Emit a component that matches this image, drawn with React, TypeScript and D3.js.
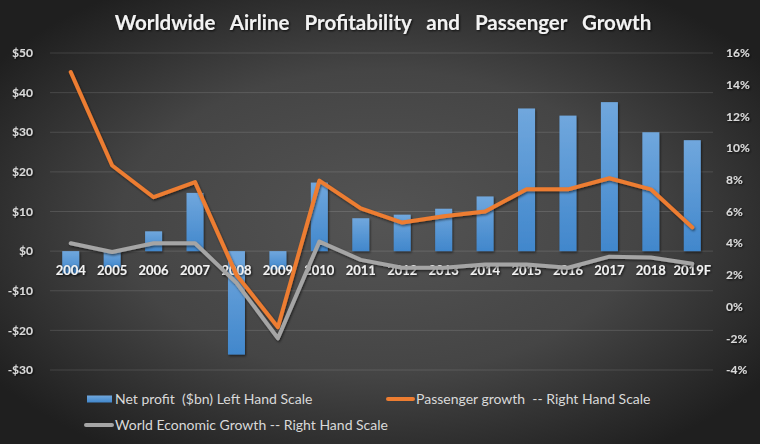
import * as d3 from 'd3';

const years = ['2004', '2005', '2006', '2007', '2008', '2009', '2010', '2011', '2012', '2013', '2014', '2015', '2016', '2017', '2018', '2019F'];
const netProfit = [-5.6, -4.1, 5.0, 14.7, -26.1, -4.6, 17.3, 8.3, 9.2, 10.7, 13.8, 36.0, 34.2, 37.6, 30.0, 28.0];
const passengerGrowth = [14.8, 8.9, 6.9, 7.85, 2.0, -1.3, 7.95, 6.2, 5.3, 5.7, 6.0, 7.4, 7.4, 8.1, 7.4, 5.0];
const worldGrowth = [4.0, 3.45, 4.0, 4.0, 1.5, -2.0, 4.1, 2.95, 2.45, 2.45, 2.65, 2.65, 2.45, 3.15, 3.1, 2.7];
const leftTicks = [-30, -20, -10, 0, 10, 20, 30, 40, 50];
const rightTicks = [-4, -2, 0, 2, 4, 6, 8, 10, 12, 14, 16];

const W = 760;
const H = 444;
const FONT = 'Lato, "Open Sans", sans-serif';

export default function App() {
  const x = d3.scaleBand().domain(years).range([50, 713]).paddingInner(0.59).paddingOuter(0.295);
  const yL = d3.scaleLinear().domain([-30, 50]).range([370, 53]);
  const yR = d3.scaleLinear().domain([-4, 16]).range([370, 53]);
  const cx = (y: string) => (x(y) || 0) + x.bandwidth() / 2;

  const line = d3.line<number>()
    .x((_, i) => cx(years[i]))
    .y(d => yR(d));

  const fmtL = (v: number) => (v < 0 ? `-$${-v}` : `$${v}`);

  return (
    <svg width={W} height={H} style={{ position: 'absolute', left: 0, top: 0 }} fontFamily={FONT}>
      <defs>
        <radialGradient id="bg" cx="50%" cy="50%" r="62%">
          <stop offset="0%" stopColor="#545454" />
          <stop offset="55%" stopColor="#454545" />
          <stop offset="100%" stopColor="#1f1f1f" />
        </radialGradient>
        <linearGradient id="bar" x1="0" y1="0" x2="0" y2="1">
          <stop offset="0%" stopColor="#70a7dd" />
          <stop offset="100%" stopColor="#4187cc" />
        </linearGradient>
        <filter id="shadow" x="-20%" y="-20%" width="140%" height="140%">
          <feDropShadow dx="1" dy="1.5" stdDeviation="1" floodColor="#000" floodOpacity="0.55" />
        </filter>
        <filter id="tshadow" x="-10%" y="-30%" width="120%" height="160%">
          <feDropShadow dx="1" dy="1" stdDeviation="0.8" floodColor="#000" floodOpacity="0.8" />
        </filter>
      </defs>

      <rect width={W} height={H} fill="url(#bg)" />

      <text x={383} y={30} textAnchor="middle" fontSize={20.5} fontWeight={700} fill="#f2f2f2"
        wordSpacing={10} filter="url(#tshadow)">
        Worldwide Airline Profitability and Passenger Growth
      </text>

      {/* grid */}
      {leftTicks.map(t => (
        <line key={t} x1={50} x2={713} y1={yL(t)} y2={yL(t)} stroke="#ffffff" strokeOpacity={0.13} />
      ))}

      {/* left axis */}
      {leftTicks.map(t => (
        <text key={t} x={33} y={yL(t)} dy="0.35em" textAnchor="end" fontSize={12} fontWeight={700}
          fill="#d9d9d9" filter="url(#tshadow)">{fmtL(t)}</text>
      ))}

      {/* right axis */}
      {rightTicks.map(t => (
        <text key={t} x={726} y={yR(t)} dy="0.35em" textAnchor="start" fontSize={12} fontWeight={700}
          fill="#d9d9d9" filter="url(#tshadow)">{`${t}%`}</text>
      ))}

      {/* bars */}
      {netProfit.map((v, i) => (
        <rect key={years[i]} x={x(years[i])} width={x.bandwidth()}
          y={Math.min(yL(v), yL(0))} height={Math.abs(yL(v) - yL(0))}
          fill="url(#bar)" filter="url(#shadow)" />
      ))}

      {/* year labels */}
      {years.map(y => (
        <text key={y} x={cx(y)} y={275} textAnchor="middle" fontSize={13} fontWeight={700}
          fill="#f2f2f2" filter="url(#tshadow)">{y}</text>
      ))}

      <path d={line(passengerGrowth) || ''} fill="none" stroke="#ed7d31" strokeWidth={4}
        strokeLinejoin="round" strokeLinecap="round" filter="url(#shadow)" />
      <path d={line(worldGrowth) || ''} fill="none" stroke="#a5a5a5" strokeWidth={4}
        strokeLinejoin="round" strokeLinecap="round" filter="url(#shadow)" />

      {/* legend */}
      <g fontSize={14} fill="#d9d9d9">
        <rect x={87} y={395.5} width={25} height={7} fill="url(#bar)" />
        <text x={115} y={399} dy="0.35em" xmlSpace="preserve">{'Net profit  ($bn) Left Hand Scale'}</text>
        <line x1={388} x2={413} y1={399} y2={399} stroke="#ed7d31" strokeWidth={4} strokeLinecap="round" />
        <text x={416} y={399} dy="0.35em" xmlSpace="preserve">{'Passenger growth  -- Right Hand Scale'}</text>
        <line x1={86} x2={112} y1={425} y2={425} stroke="#a5a5a5" strokeWidth={4} strokeLinecap="round" />
        <text x={115} y={425} dy="0.35em">World Economic Growth -- Right Hand Scale</text>
      </g>
    </svg>
  );
}
